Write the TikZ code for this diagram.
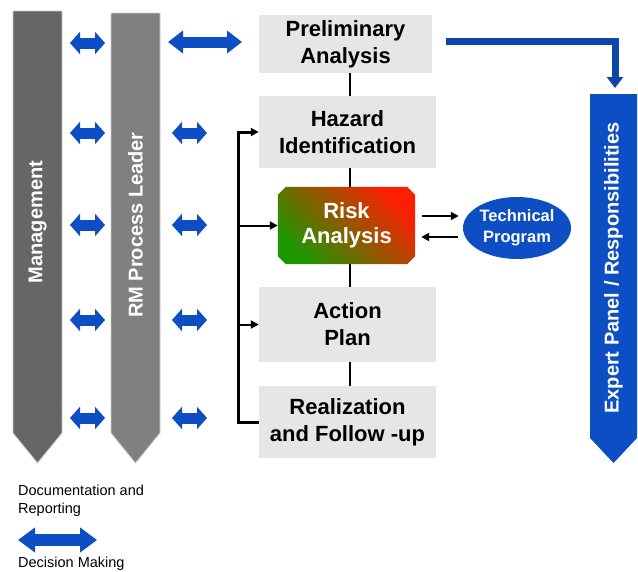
\documentclass[tikz,border=0pt]{standalone}
\usepackage{fontspec}
\setmainfont{Liberation Sans}
\usetikzlibrary{arrows.meta,positioning,calc,shapes.geometric,backgrounds}

\definecolor{darkgrey}{RGB}{102,102,102}
\definecolor{midgrey}{RGB}{128,128,128}
\definecolor{boxgrey}{RGB}{230,230,230}
\definecolor{panelblue}{RGB}{14,78,196}
\definecolor{linkblue}{RGB}{11,70,168}
\definecolor{riskred}{RGB}{255,30,0}
\definecolor{riskmid}{RGB}{200,104,0}
\definecolor{riskgreen}{RGB}{30,150,0}

\tikzset{
  stepbox/.style={fill=boxgrey, minimum width=177pt, align=center, inner sep=0pt,
    font=\fontsize{22}{27}\selectfont\bfseries},
  coltext/.style={text=white, rotate=90, font=\fontsize{20}{24}\selectfont\bfseries},
  link/.style={line width=2.5pt},
  loopline/.style={line width=3pt, -{Triangle[length=8pt,width=8pt]}},
  feed/.style={line width=2pt, -{Triangle[length=8pt,width=8pt]}},
  decide/.style 2 args={panelblue, line width=11pt,
    {Triangle[length=#1,width=#2]}-{Triangle[length=#1,width=#2]}},
  legend/.style={anchor=west, align=left, inner sep=0pt, font=\fontsize{14.5}{18}\selectfont}
}

\begin{document}
\begin{tikzpicture}[x=1pt, y=-1pt]
    \useasboundingbox (0,0) rectangle (638,571);

    % Columns
    \fill[darkgrey, draw=black!20, line width=0.8pt] (13,11) -- (62,11) -- (62,433) -- (37.5,463) -- (13,433) -- cycle;
    \fill[midgrey, draw=black!20, line width=0.8pt] (111,13) -- (160,13) -- (160,433) -- (135.5,463) -- (111,433) -- cycle;
    \fill[panelblue] (590,94) -- (637,94) -- (637,438) -- (613.5,463) -- (590,438) -- cycle;
    \node[coltext] (mgmt) at (37.5,222) {Management};
    \node[coltext] (leader) at (135.5,225) {RM Process Leader};
    \node[coltext] (panel) at (613.5,268) {Expert Panel / Responsibilities};
    \coordinate (paneltop) at (615,94);

    % Decision arrows
    \foreach \y in {43,133,225,320,418}
        \draw[decide={10pt}{22pt}] (70,\y) -- (105,\y);
    \foreach \y in {133,225,320,418}
        \draw[decide={10pt}{22pt}] (172,\y) -- (207,\y);
    \draw[decide={15pt}{22pt}] (168,42) -- (242,42);

    % Process steps
    \node[stepbox, minimum width=173pt, minimum height=58pt] (prelim) at (345.5,44) {Preliminary\\Analysis};
    \node[stepbox, minimum height=72pt] (hazard) at (347.5,132) {Hazard\\Identification};
    \node[align=center, minimum width=137pt, minimum height=77pt, inner sep=0pt, text=white,
          font=\fontsize{22}{25}\selectfont\bfseries] (risk) at (346.5,225.5) {Risk\\Analysis};
    \node[stepbox, minimum height=75pt] (action) at (347.5,324.5) {Action\\Plan};
    \node[stepbox, minimum height=72pt] (real) at (347.5,422) {Realization\\and Follow -up};

    \begin{scope}[on background layer]
        \shade[top color=riskred, middle color=riskmid, bottom color=riskgreen, shading angle=-45]
            ($(risk.north west)+(8,0)$) -- ($(risk.north east)+(-8,0)$) -- ($(risk.north east)+(0,8)$)
            -- ($(risk.south east)+(0,-8)$) -- ($(risk.south east)+(-8,0)$) -- ($(risk.south west)+(8,0)$)
            -- ($(risk.south west)+(0,-8)$) -- ($(risk.north west)+(0,8)$) -- cycle;
    \end{scope}

    \node[ellipse, fill=panelblue, minimum width=108pt, minimum height=62pt, inner sep=0pt,
          align=center, text=white, font=\fontsize{16.5}{21}\selectfont\bfseries] (tech) at (517,228) {Technical\\Program};

    % Spine between steps
    \coordinate (spine) at (350,0);
    \draw[link] (spine |- prelim.south) -- (spine |- hazard.north);
    \draw[link] (spine |- hazard.south) -- (spine |- risk.north);
    \draw[link] (spine |- risk.south) -- (spine |- action.north);
    \draw[link] (spine |- action.south) -- (spine |- real.north);

    % Feedback loop
    \coordinate (loopx) at (238,0);
    \draw[loopline] (real.west) -- (loopx |- real.west) -- (loopx |- hazard.west) -- (hazard.west);
    \draw[feed] (loopx |- risk.west) -- (risk.west);
    \draw[feed] (loopx |- action.west) -- (action.west);

    % Risk <-> technical program
    \draw[feed] ($(risk.east)+(7,-9.5)$) -- ($(tech.west)+(-4,-12)$);
    \draw[feed] ($(tech.west)+(-5,9)$) -- ($(risk.east)+(6,11.5)$);

    % Link to expert panel
    \draw[linkblue, line width=7pt, -{Triangle[length=11pt,width=16pt]}]
        ($(prelim.east)+(14,-3)$) -| ($(paneltop)+(0,-6)$);

    % Legend
    \node[legend] (doclabel) at (18,501) {Documentation and\\Reporting};
    \draw[decide={17pt}{24pt}, line width=12pt] (18,540) -- (97,540);
    \node[legend] (decisionlabel) at (18,564) {Decision Making};
\end{tikzpicture}
\end{document}
